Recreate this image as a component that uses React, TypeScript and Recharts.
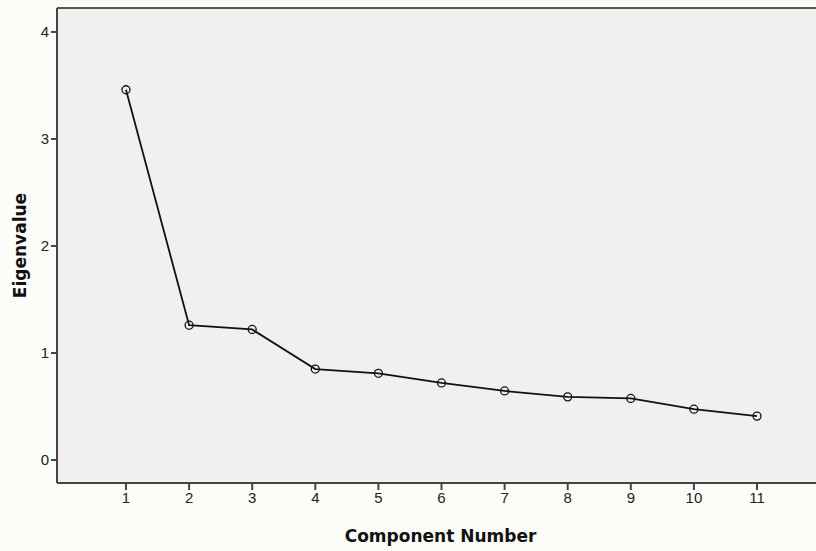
import React from 'react';
import { LineChart, Line, XAxis, YAxis, ReferenceArea, ReferenceLine } from 'recharts';

const components = [1, 2, 3, 4, 5, 6, 7, 8, 9, 10, 11];
const eigenvalues = [3.46, 1.26, 1.22, 0.85, 0.81, 0.72, 0.645, 0.59, 0.575, 0.475, 0.41];
const xTicks = [1, 2, 3, 4, 5, 6, 7, 8, 9, 10, 11];
const yTicks = [0, 1, 2, 3, 4];

const data = components.map((c, i) => ({ component: c, eigenvalue: eigenvalues[i] }));

const X_DOMAIN: [number, number] = [-0.0935, 11.935];
const Y_DOMAIN: [number, number] = [-0.215, 4.224];

const tickStyle = { fontFamily: 'Liberation Sans, Arial, sans-serif', fontSize: 15, fill: '#222' };
const labelStyle = { fontFamily: 'DejaVu Sans, sans-serif', fontSize: 17, fontWeight: 'bold', fill: '#111' };

export default function App() {
  return (
    <div style={{ position: 'absolute', left: 0, top: 0, width: 816, height: 551, overflow: 'hidden', background: '#fcfcf8' }}>
      <LineChart width={816} height={551} data={data} margin={{ top: 8, right: 0, left: 0, bottom: 0 }}>
        <ReferenceArea x1={X_DOMAIN[0]} x2={X_DOMAIN[1]} y1={Y_DOMAIN[0]} y2={Y_DOMAIN[1]} fill="#f0f0ee" fillOpacity={1} stroke="none" ifOverflow="hidden" />
        <ReferenceLine y={Y_DOMAIN[1]} stroke="#555" strokeWidth={2} ifOverflow="extendDomain" />
        <XAxis
          dataKey="component"
          type="number"
          domain={X_DOMAIN}
          ticks={xTicks}
          allowDataOverflow
          height={68}
          stroke="#444"
          strokeWidth={2}
          tickSize={7}
          tickLine={{ stroke: '#444', strokeWidth: 2 }}
          tick={tickStyle}
          interval={0}
          label={{ value: 'Component Number', position: 'insideBottom', offset: 9, dx: 4, style: labelStyle }}
        />
        <YAxis
          type="number"
          domain={Y_DOMAIN}
          ticks={yTicks}
          allowDataOverflow
          width={57}
          stroke="#444"
          strokeWidth={2}
          tickSize={6}
          tickLine={{ stroke: '#444', strokeWidth: 2 }}
          tick={tickStyle}
          label={{ value: 'Eigenvalue', angle: -90, position: 'insideLeft', offset: 0, dx: 20, style: { ...labelStyle, textAnchor: 'middle' } }}
        />
        <Line
          type="linear"
          dataKey="eigenvalue"
          stroke="#111"
          strokeWidth={1.8}
          isAnimationActive={false}
          dot={{ r: 4, stroke: '#111', strokeWidth: 1.3, fill: 'none' }}
        />
      </LineChart>
    </div>
  );
}
